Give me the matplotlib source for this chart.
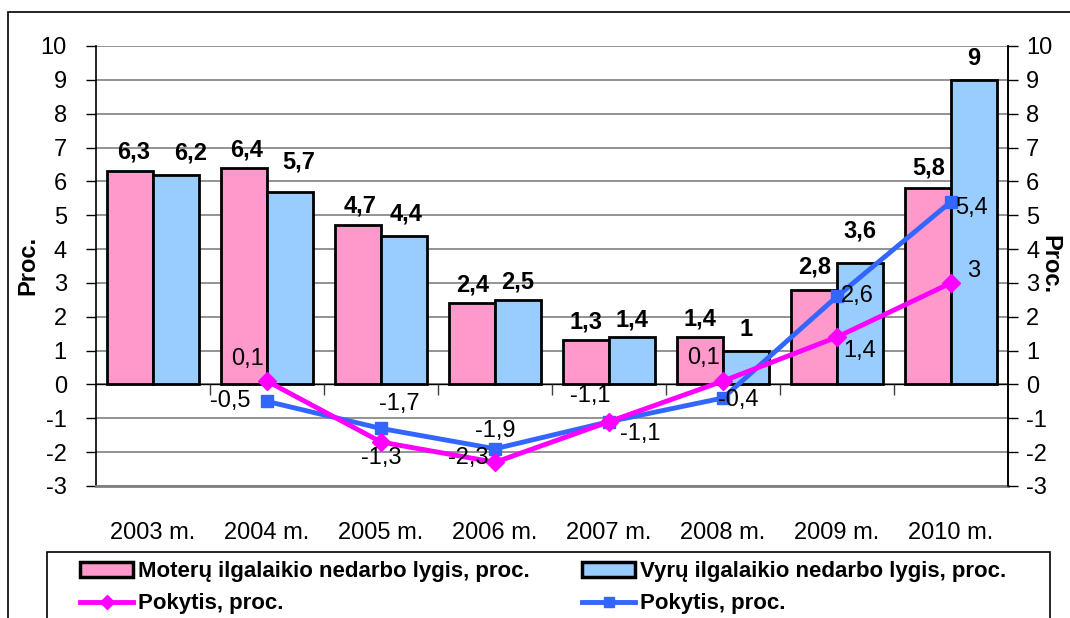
import matplotlib
matplotlib.use("Agg")
import matplotlib.pyplot as plt
from matplotlib.patches import Rectangle
from matplotlib.lines import Line2D
import numpy as np

years = ["2003 m.", "2004 m.", "2005 m.", "2006 m.", "2007 m.", "2008 m.", "2009 m.", "2010 m."]
women = [6.3, 6.4, 4.7, 2.4, 1.3, 1.4, 2.8, 5.8]
men = [6.2, 5.7, 4.4, 2.5, 1.4, 1.0, 3.6, 9.0]
change_years = ["2004 m.", "2005 m.", "2006 m.", "2007 m.", "2008 m.", "2009 m.", "2010 m."]
change_women = [0.1, -1.7, -2.3, -1.1, 0.1, 1.4, 3.0]
change_men = [-0.5, -1.3, -1.9, -1.1, -0.4, 2.6, 5.4]
yticks = list(range(-3, 11))

lbl_women = "Moterų ilgalaikio nedarbo lygis, proc."
lbl_men = "Vyrų ilgalaikio nedarbo lygis, proc."
lbl_change = "Pokytis, proc."

def fmt(v):
    s = ("%g" % v).replace(".", ",")
    return s

plt.rcParams['font.family'] = ['Liberation Sans', 'DejaVu Sans']

W, H = 1070, 618
fig = plt.figure(figsize=(W / 100, H / 100), dpi=100)
ax = fig.add_axes([96 / W, 1 - 486 / H, (1008 - 96) / W, (486 - 46) / H])

x = np.arange(len(years))
cx = np.array([years.index(y) for y in change_years])
bw = 0.4
pink = "#FF99CC"
blue = "#99CCFF"
mag = "#FF00FF"
lblue = "#3366FF"

ax.set_xlim(-0.5, len(years) - 0.5)
ax.set_ylim(yticks[0], yticks[-1])
for t in yticks:
    ax.axhline(t, color="#808080", lw=1.2, zorder=0)

bars_w = ax.bar(x - bw / 2, women, bw, color=pink, edgecolor="black", lw=2, zorder=2)
bars_m = ax.bar(x + bw / 2, men, bw, color=blue, edgecolor="black", lw=2, zorder=2)

# category axis at zero
ax.axhline(0, color="black", lw=1, zorder=3)
for b in np.arange(0.5, len(years) - 0.5, 1):
    ax.plot([b], [0], marker=3, ms=8, mew=1, color="#404040", zorder=3, clip_on=False)

lw_, = ax.plot(cx, change_women, color=mag, lw=3.5, marker="D", ms=9, zorder=5)
lm_, = ax.plot(cx, change_men, color=lblue, lw=3.5, marker="s", ms=8, zorder=4)

fs = 17
# bar labels (pixel offsets above bar top)
dy_w = [8, 6, 8, 7, 7, 7, 11, 9]
dx_w = [3, 2, 2, 0, 0, 0, 0, 0]
dy_m = [10, 18, 10, 6, 6, 10, 20, 10]
dx_m = [15, 9, 2, 0, 0, 0, 0, 0]
for i in range(len(years)):
    ax.annotate(fmt(women[i]), (x[i] - bw / 2, women[i]), xytext=(dx_w[i] * 0.72, dy_w[i] * 0.72),
                textcoords="offset points", ha="center", va="bottom", fontsize=fs, fontweight="bold", zorder=6)
    ax.annotate(fmt(men[i]), (x[i] + bw / 2, men[i]), xytext=(dx_m[i] * 0.72, dy_m[i] * 0.72),
                textcoords="offset points", ha="center", va="bottom", fontsize=fs, fontweight="bold", zorder=6)

# line labels (pixel offsets, y up)
off_w = [(-19, 22), (18, 38), (-27, 4), (-19, 26), (-20, 23), (23, -14), (23, 12)]
off_m = [(-37, 0), (0, -30), (0, 18), (31, -12), (15, -2), (20, 0), (20, -6)]
for i in range(len(change_years)):
    ax.annotate(fmt(change_women[i]), (cx[i], change_women[i]), xytext=(off_w[i][0] * 0.72, off_w[i][1] * 0.72),
                textcoords="offset points", ha="center", va="center", fontsize=fs, zorder=7)
    ax.annotate(fmt(change_men[i]), (cx[i], change_men[i]), xytext=(off_m[i][0] * 0.72, off_m[i][1] * 0.72),
                textcoords="offset points", ha="center", va="center", fontsize=fs, zorder=7)

ax.set_xticks(x)
ax.set_xticklabels(years, fontsize=fs)
ax.tick_params(axis="x", length=0, pad=26)
ax.set_yticks(yticks)
ax.set_yticklabels([str(t) for t in yticks], fontsize=fs)
ax.tick_params(axis="y", direction="out", length=7, width=1, pad=14, colors="black")

for s in ["top"]:
    ax.spines[s].set_visible(False)
ax.spines["bottom"].set_color("#808080")
ax.spines["bottom"].set_linewidth(2)
ax.spines["left"].set_color("black")
ax.spines["left"].set_linewidth(1.2)
ax.spines["right"].set_color("black")
ax.spines["right"].set_linewidth(1.2)

ax2 = ax.twinx()
ax2.set_ylim(ax.get_ylim())
ax2.set_yticks(yticks)
ax2.set_yticklabels([str(t) for t in yticks], fontsize=fs)
ax2.tick_params(axis="y", direction="out", length=7, width=1, pad=6)
for s in ["top", "bottom", "left"]:
    ax2.spines[s].set_visible(False)
ax2.spines["right"].set_linewidth(1.2)

fig.text(28 / W, 1 - 265 / H, "Proc.", rotation=90, ha="center", va="center", fontsize=fs, fontweight="bold")
fig.text(1050 / W, 1 - 265 / H, "Proc.", rotation=270, ha="center", va="center", fontsize=fs, fontweight="bold")

# outer frame and legend frame
fig.patches.append(Rectangle((8 / W, -0.1), 1.2, 1 - 12 / H + 0.1, transform=fig.transFigure,
                             fill=False, edgecolor="black", lw=1.2))
fig.patches.append(Rectangle((47 / W, -0.1), (1050 - 47) / W, 1 - 552 / H + 0.1, transform=fig.transFigure,
                             fill=False, edgecolor="black", lw=1.2))

legfont = {"family": ["Liberation Sans Narrow", "Liberation Sans"], "weight": "bold", "size": 16}
h_w = Rectangle((0, 0), 1, 1, facecolor=pink, edgecolor="black", lw=2.5)
h_m = Rectangle((0, 0), 1, 1, facecolor=blue, edgecolor="black", lw=2.5)
h_lw = Line2D([], [], color=mag, lw=3.5, marker="D", ms=7)
h_lm = Line2D([], [], color=lblue, lw=3.5, marker="s", ms=7)
common = dict(frameon=False, prop=legfont, handlelength=2.4, handleheight=0.65, handletextpad=0.2,
              labelspacing=0.5, borderpad=0, borderaxespad=0, loc="upper left")
leg1 = fig.legend([h_w, h_lw], [lbl_women, lbl_change], bbox_to_anchor=(80 / W, 1 - 561 / H), **common)
leg2 = fig.legend([h_m, h_lm], [lbl_men, lbl_change], bbox_to_anchor=(582 / W, 1 - 561 / H), **common)

fig.savefig("out.png", dpi=100)
